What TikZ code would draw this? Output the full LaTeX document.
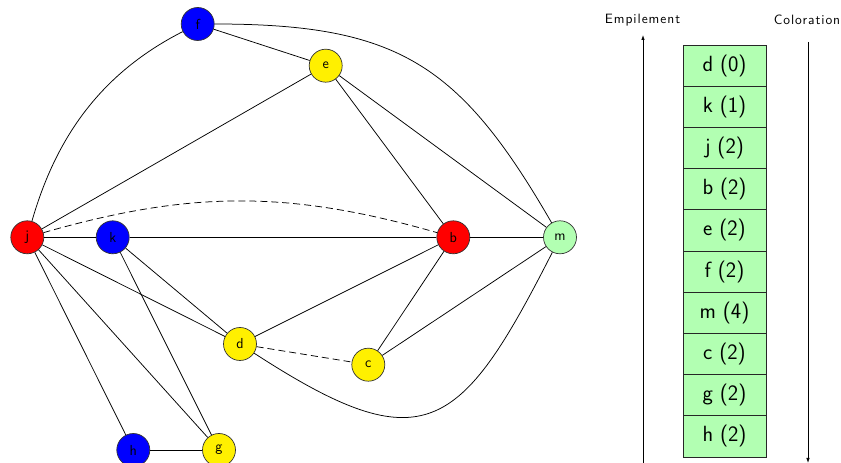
\documentclass[tikz,border=0pt]{standalone}
\usepackage{fontspec}
\newfontfamily\titlefont{lmsans10-regular.otf}[LetterSpace=7]
\usetikzlibrary{arrows.meta}
\definecolor{nodeblue}{RGB}{0,0,255}
\definecolor{nodered}{RGB}{255,0,0}
\definecolor{nodeyellow}{RGB}{255,240,0}
\definecolor{stackgreen}{RGB}{178,255,178}
\begin{document}
\begin{tikzpicture}[x=1pt,y=1pt,
  vertex/.style={circle,draw=black!80,line width=0.7pt,minimum size=33pt,inner sep=0pt,font=\sffamily\fontsize{14.5}{14.5}\selectfont},
  edge/.style={line width=0.75pt},
  dashedge/.style={line width=0.75pt,dash pattern=on 7pt off 4pt},
  cell/.style={draw=black!85,line width=0.8pt,fill=stackgreen,minimum width=83pt,minimum height=41.2pt,inner sep=0pt,font=\sffamily\fontsize{22}{22}\selectfont},
  title/.style={font=\titlefont\fontsize{13.5}{13.5}\selectfont,inner sep=0pt},
  flow/.style={line width=0.75pt,-{Latex[length=5pt,width=3.5pt]}}
  ]
\useasboundingbox (0,0) rectangle (841,463);

% graph nodes
\node[vertex,fill=nodeblue]   (f) at (197.7,439) {f};
\node[vertex,fill=nodeyellow] (e) at (325.7,397.3) {e};
\node[vertex,fill=nodered]    (j) at (27.3,225.7) {j};
\node[vertex,fill=nodeblue]   (k) at (112.7,225.7) {k};
\node[vertex,fill=nodered]    (b) at (453.3,225.7) {b};
\node[vertex,fill=stackgreen] (m) at (560,225.7) {m};
\node[vertex,fill=nodeyellow] (d) at (240,119) {d};
\node[vertex,fill=nodeyellow] (c) at (368.3,98.3) {c};
\node[vertex,fill=nodeblue]   (h) at (133.3,13) {h};
\node[vertex,fill=nodeyellow] (g) at (219,13) {g};

% edges
\draw[edge] (f) -- (e);
\draw[edge] (f) to[out=0,in=120,looseness=1.2] (m);
\draw[edge] (j) to[out=74,in=207,looseness=0.95] (f);
\draw[edge] (e) -- (j);
\draw[edge] (e) -- (b);
\draw[edge] (e) -- (m);
\draw[edge] (j) -- (k);
\draw[edge] (k) -- (b);
\draw[edge] (b) -- (m);
\draw[dashedge] (j) to[bend left=16] (b);
\draw[edge] (j) -- (d);
\draw[edge] (j) -- (g);
\draw[edge] (j) -- (h);
\draw[edge] (k) -- (d);
\draw[edge] (k) -- (g);
\draw[edge] (d) -- (b);
\draw[dashedge] (d) -- (c);
\draw[edge] (d) to[out=-33,in=-117,looseness=1.65] (m);
\draw[edge] (c) -- (b);
\draw[edge] (c) -- (m);
\draw[edge] (h) -- (g);

% stack
\node[cell] (s0) at (724.5,397.4) {d (0)};
\node[cell] (s1) at (724.5,356.2) {k (1)};
\node[cell] (s2) at (724.5,315.0) {j (2)};
\node[cell] (s3) at (724.5,273.8) {b (2)};
\node[cell] (s4) at (724.5,232.6) {e (2)};
\node[cell] (s5) at (724.5,191.4) {f (2)};
\node[cell] (s6) at (724.5,150.2) {m (4)};
\node[cell] (s7) at (724.5,109.0) {c (2)};
\node[cell] (s8) at (724.5,67.8) {g (2)};
\node[cell] (s9) at (724.5,26.6) {h (2)};

% titles and arrows
\node[title] (emp) at (642.5,443) {Empilement};
\node[title] (col) at (807,443) {Coloration};
\coordinate (a1s) at (643,0);
\coordinate (a1e) at (643,428);
\coordinate (a2s) at (808,421);
\coordinate (a2e) at (808,0);
\draw[flow] (a1s) -- (a1e);
\draw[flow] (a2s) -- (a2e);
\end{tikzpicture}
\end{document}
